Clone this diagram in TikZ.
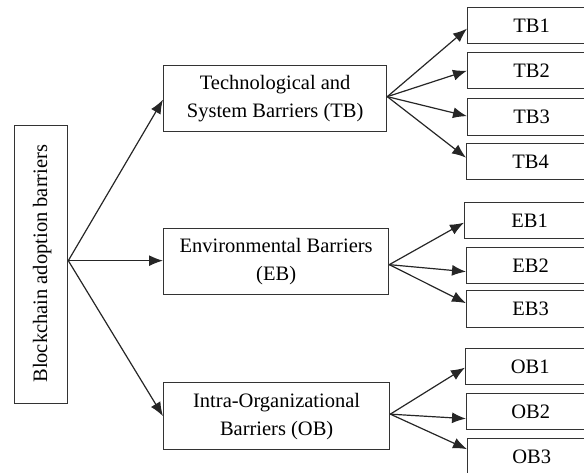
\documentclass[tikz,border=0pt]{standalone}
\usepackage{fontspec}
\setmainfont{Liberation Serif}
\usetikzlibrary{arrows.meta,calc}
\begin{document}
\begin{tikzpicture}[x=1pt,y=-1pt,
  every node/.style={font=\fontsize{20.5}{28}\selectfont},
  box/.style={draw=black!80, line width=1.3pt, inner sep=0pt, align=center, anchor=north west},
  conn/.style={draw=black!85, line width=1.2pt, -{Latex[length=14pt,width=11pt]}}]
\useasboundingbox (0,0) rectangle (584,472);
% root
\node[box, minimum width=53pt, minimum height=278pt] (root) at (14,125) {};
\node[rotate=90, inner sep=0pt] (roottext) at ($(root.center)+(1,-1)$) {Blockchain adoption barriers};
% main categories
\node[box, minimum width=223pt, minimum height=66pt] (TB) at (163,65) {Technological and\\System Barriers (TB)};
\node[box, minimum width=225pt, minimum height=66pt] (EB) at (163,228) {Environmental Barriers\\(EB)};
\node[box, minimum width=226pt, minimum height=67pt] (OB) at (163,382) {Intra-Organizational\\Barriers (OB)};
% leaves
\node[box, minimum width=128pt, minimum height=36pt] (TB1) at (467,7) {TB1};
\node[box, minimum width=128pt, minimum height=36pt] (TB2) at (467,52) {TB2};
\node[box, minimum width=128pt, minimum height=37pt] (TB3) at (467,98) {TB3};
\node[box, minimum width=128pt, minimum height=36pt] (TB4) at (466,143) {TB4};
\node[box, minimum width=130pt, minimum height=36pt] (EB1) at (464,202) {EB1};
\node[box, minimum width=128pt, minimum height=36pt] (EB2) at (466,247) {EB2};
\node[box, minimum width=128pt, minimum height=37pt] (EB3) at (466,290) {EB3};
\node[box, minimum width=129pt, minimum height=36pt] (OB1) at (465,348) {OB1};
\node[box, minimum width=128pt, minimum height=36pt] (OB2) at (466,393) {OB2};
\node[box, minimum width=128pt, minimum height=37pt] (OB3) at (467,438) {OB3};
% connectors from root
\coordinate (r0) at ([yshift=4pt]root.east);
\draw[conn] (r0) -- ([yshift=-1pt]TB.west);
\draw[conn] (r0) -- ([yshift=1pt]EB.west);
\draw[conn] (r0) -- (OB.west);
% TB fan
\coordinate (t0) at ([yshift=2pt]TB.east);
\draw[conn] (t0) -- ([yshift=-3pt]TB1.west);
\draw[conn] (t0) -- (TB2.west);
\draw[conn] (t0) -- ([yshift=1pt]TB3.west);
\draw[conn] (t0) -- ([yshift=4pt]TB4.west);
% EB fan
\coordinate (e0) at ([yshift=-3pt]EB.east);
\draw[conn] (e0) -- ([yshift=-2pt]EB1.west);
\draw[conn] (e0) -- ([yshift=-6pt]EB2.west);
\draw[conn] (e0) -- ([yshift=6pt]EB3.west);
% OB fan
\coordinate (o0) at ([yshift=2pt]OB.east);
\draw[conn] (o0) -- ([yshift=-1pt]OB1.west);
\draw[conn] (o0) -- ([yshift=-7pt]OB2.west);
\draw[conn] (o0) -- ([yshift=8pt]OB3.west);
\end{tikzpicture}
\end{document}
